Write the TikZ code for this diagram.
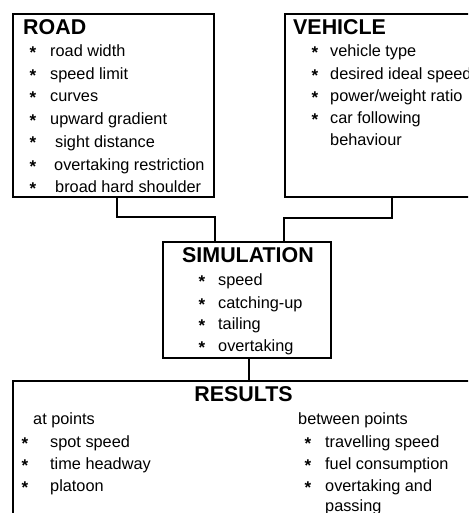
\documentclass[tikz,border=0pt]{standalone}
\usepackage{fontspec}
\setmainfont{Liberation Sans}
\begin{document}
\begin{tikzpicture}[x=1pt,y=-1pt,
  box/.style={draw, line width=1.6pt, anchor=north west, inner sep=0pt},
  conn/.style={draw, line width=1.2pt},
  ttl/.style={anchor=base west, inner sep=0pt, font=\fontsize{21.4}{24}\selectfont\bfseries},
  item/.style={anchor=base west, inner sep=0pt, font=\fontsize{16.3}{18}\selectfont},
  bul/.style={anchor=base, inner sep=0pt, yshift=-2pt, font=\fontsize{17}{18}\selectfont\bfseries}]
\useasboundingbox (0,0) rectangle (468,513);
\clip (0,0) rectangle (468,513);

% boxes
\node[box, minimum width=201pt, minimum height=183pt] (road) at (12,13) {};
\node[box, minimum width=250pt, minimum height=183pt] (veh) at (284,13) {};
\node[box, minimum width=168pt, minimum height=116pt] (sim) at (162,241) {};
\node[box, minimum width=500pt, minimum height=200pt] (res) at (12,380) {};

% connectors
\coordinate (j1) at (117,217);
\coordinate (j2) at (215,217);
\coordinate (j3) at (392,218);
\coordinate (j4) at (284,218);
\coordinate (j5) at (249,370);
\draw[conn] (road.south -| j1) -- (j1) -- (j2) -- (sim.north -| j2);
\draw[conn] (veh.south -| j3) -- (j3) -- (j4) -- (sim.north -| j4);
\draw[conn] (sim.south -| j5) -- (res.north -| j5);

% ROAD
\node[ttl] (roadT) at (23,35) {ROAD};
\foreach \i/\y/\tx/\t in {1/57/50/{road width}, 2/80/50/{speed limit}, 3/102/50/{curves},
  4/125/50/{upward gradient}, 5/147/55/{sight distance}, 6/170/54/{overtaking restriction},
  7/192/55/{broad hard shoulder}} {
  \node[bul] (rb\i) at (33,\y) {*};
  \node[item] (ri\i) at (\tx,\y) {\t};
}

% VEHICLE
\node[ttl] (vehT) at (293,35) {VEHICLE};
\foreach \i/\y/\t in {1/57/{vehicle type}, 2/80/{desired ideal speed}, 3/102/{power/weight ratio},
  4/124/{car following}} {
  \node[bul] (vb\i) at (315,\y) {*};
  \node[item] (vi\i) at (330,\y) {\t};
}
\node[item] (vi5) at (330,146) {behaviour};

% SIMULATION
\node[ttl] (simT) at (182,262) {SIMULATION};
\foreach \i/\y/\t in {1/285/{speed}, 2/308/{catching-up}, 3/329/{tailing}, 4/351/{overtaking}} {
  \node[bul] (sb\i) at (202,\y) {*};
  \node[item] (si\i) at (218,\y) {\t};
}

% RESULTS
\node[ttl, anchor=base] (resT) at (243.5,401) {RESULTS};
\node[item] (lh) at (33,424) {at points};
\foreach \i/\y/\t in {1/447/{spot speed}, 2/469/{time headway}, 3/491/{platoon}} {
  \node[bul] (lb\i) at (25,\y) {*};
  \node[item] (li\i) at (50,\y) {\t};
}
\node[item] (rh) at (298,424) {between points};
\foreach \i/\y/\t in {1/447/{travelling speed}, 2/469/{fuel consumption}, 3/491/{overtaking and}} {
  \node[bul] (qb\i) at (308,\y) {*};
  \node[item] (qi\i) at (325,\y) {\t};
}
\node[item] (qi4) at (325,511) {passing};
\end{tikzpicture}
\end{document}
